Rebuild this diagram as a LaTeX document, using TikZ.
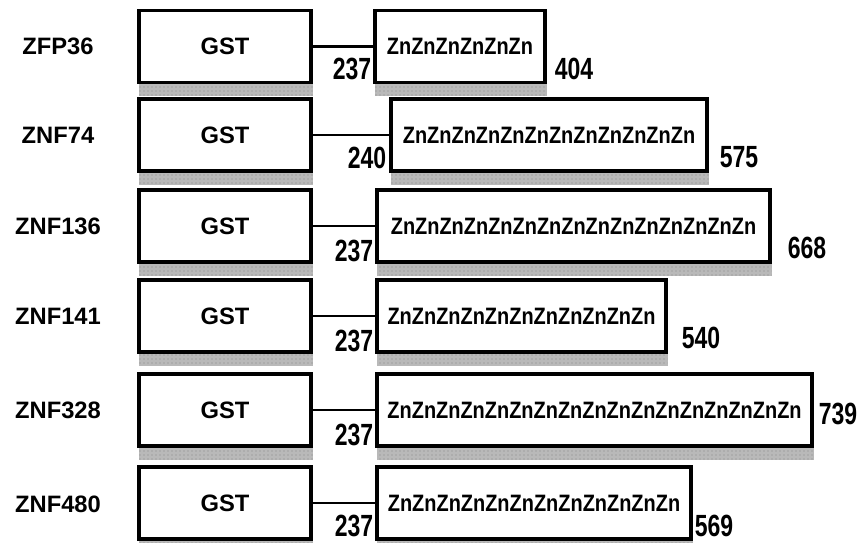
\documentclass[tikz,border=0pt]{standalone}
\usepackage{fontspec}
\setmainfont{Liberation Sans}
\usetikzlibrary{backgrounds,patterns}
\newdimen\pxu \pxu=0.75pt
\newcommand{\lblfont}{\fontsize{17.8}{18}\selectfont\bfseries}
\newcommand{\numtxt}[1]{\scalebox{0.75}[1]{\fontsize{23}{23}\selectfont\bfseries #1}}
\newcommand{\zntxt}[1]{\scalebox{0.84}[1]{\fontsize{17.8}{18}\selectfont\bfseries #1}}
\tikzset{
  domainbox/.style={draw, line width=2.4pt, fill=white, inner sep=0pt, minimum height=72\pxu},
  gstbox/.style={domainbox, minimum width=172\pxu, font=\lblfont},
  rowlabel/.style={inner sep=0pt, font=\lblfont},
  numlabel/.style={inner sep=0pt},
  linker/.style={line width=1.6pt},
  shadowfill/.style={fill=gray!55},
  shadowdots/.style={pattern=dots, pattern color=gray!95}
}
\begin{document}
\begin{tikzpicture}[x=0.75pt, y=-0.75pt]
\useasboundingbox (0,0) rectangle (861,543);
% row labels
\node[rowlabel] (l1) at (58,46.5) {ZFP36};
\node[rowlabel] (l2) at (58,135) {ZNF74};
\node[rowlabel] (l3) at (58,226) {ZNF136};
\node[rowlabel] (l4) at (58,316) {ZNF141};
\node[rowlabel] (l5) at (58,410) {ZNF328};
\node[rowlabel] (l6) at (58,504) {ZNF480};
% GST boxes
\node[gstbox] (g1) at (225,46.5) {GST};
\node[gstbox] (g2) at (225,135) {GST};
\node[gstbox] (g3) at (225,226) {GST};
\node[gstbox] (g4) at (225,316) {GST};
\node[gstbox] (g5) at (225,410) {GST};
\node[gstbox] (g6) at (225,503) {GST};
% Zn boxes
\node[domainbox, minimum width=170\pxu] (z1) at (460,46.5) {\zntxt{ZnZnZnZnZnZn}};
\node[domainbox, minimum width=316\pxu] (z2) at (549,135) {\zntxt{ZnZnZnZnZnZnZnZnZnZnZnZn}};
\node[domainbox, minimum width=393\pxu] (z3) at (573.5,226) {\zntxt{ZnZnZnZnZnZnZnZnZnZnZnZnZnZnZn}};
\node[domainbox, minimum width=289\pxu] (z4) at (521.5,316) {\zntxt{ZnZnZnZnZnZnZnZnZnZnZn}};
\node[domainbox, minimum width=435\pxu] (z5) at (594.5,410) {\zntxt{ZnZnZnZnZnZnZnZnZnZnZnZnZnZnZnZnZn}};
\node[domainbox, minimum width=314\pxu] (z6) at (534,503) {\zntxt{ZnZnZnZnZnZnZnZnZnZnZnZn}};
% shadows
\begin{scope}[on background layer]
\foreach \b in {g1,g2,g3,g4,g5,g6,z1,z2,z3,z4,z5,z6}{
  \fill[shadowfill] ([xshift=2\pxu]\b.south west) rectangle ([yshift=-12\pxu]\b.south east);
  \fill[shadowdots] ([xshift=2\pxu]\b.south west) rectangle ([yshift=-12\pxu]\b.south east);
}
\end{scope}
% linkers
\foreach \i in {1,...,6}{
  \draw[linker] (g\i.east) -- (z\i.west);
}
% start numbers
\node[numlabel, anchor=base east] (s1) at ([xshift=-2\pxu, yshift=5\pxu]z1.south west) {\numtxt{237}};
\node[numlabel, anchor=base east] (s2) at ([xshift=-3\pxu, yshift=4\pxu]z2.south west) {\numtxt{240}};
\node[numlabel, anchor=base east] (s3) at ([xshift=-2\pxu, yshift=2\pxu]z3.south west) {\numtxt{237}};
\node[numlabel, anchor=base east] (s4) at ([xshift=-2\pxu, yshift=2\pxu]z4.south west) {\numtxt{237}};
\node[numlabel, anchor=base east] (s5) at ([xshift=-2\pxu, yshift=2\pxu]z5.south west) {\numtxt{237}};
\node[numlabel, anchor=base east] (s6) at ([xshift=-2\pxu, yshift=4\pxu]z6.south west) {\numtxt{237}};
% end numbers
\node[numlabel, anchor=base west] (e1) at ([xshift=8\pxu, yshift=5\pxu]z1.south east) {\numtxt{404}};
\node[numlabel, anchor=base west] (e2) at ([xshift=11\pxu, yshift=5\pxu]z2.south east) {\numtxt{575}};
\node[numlabel, anchor=base west] (e3) at ([xshift=16\pxu, yshift=5\pxu]z3.south east) {\numtxt{668}};
\node[numlabel, anchor=base west] (e4) at ([xshift=14\pxu, yshift=5\pxu]z4.south east) {\numtxt{540}};
\node[numlabel, anchor=base west] (e5) at ([xshift=5\pxu, yshift=23\pxu]z5.south east) {\numtxt{739}};
\node[numlabel, anchor=base west] (e6) at ([xshift=2\pxu, yshift=4\pxu]z6.south east) {\numtxt{569}};
\end{tikzpicture}
\end{document}
